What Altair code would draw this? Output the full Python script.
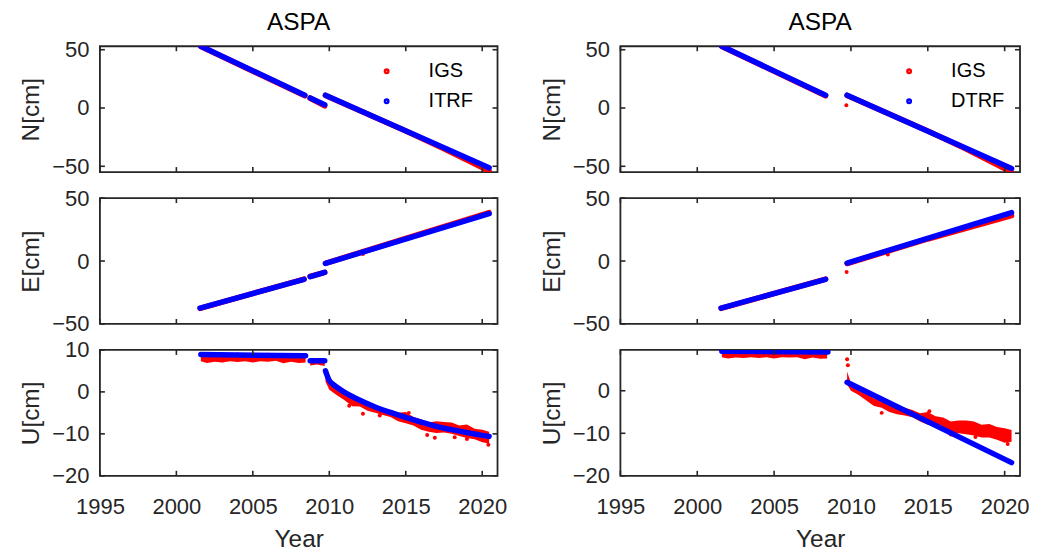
import altair as alt
import pandas as pd

# ---------------- data ----------------
YEAR_TICKS = [1995, 2000, 2005, 2010, 2015, 2020]
NE_TICKS = [-50, 0, 50]
U_TICKS_L = [-20, -10, 0, 10]
U_TICKS_R = [-20, -10, 0]

# North, left (IGS vs ITRF)
N_IGS_L_T = [2001.6, 2008.4, 2008.75, 2009.7, 2009.75, 2015.0, 2017.5, 2020.45]
N_IGS_L_V = [52.8, 10.5, 8.4, 1.8, 10.8, -19.8, -35.0, -54.0]
N_IGS_L_S = [1, 1, 2, 2, 3, 3, 3, 3]
N_ITRF_T = [2001.6, 2008.4, 2008.75, 2009.7, 2009.75, 2020.45]
N_ITRF_V = [53.0, 11.0, 8.6, 2.8, 11.0, -51.3]
N_ITRF_S = [1, 1, 2, 2, 3, 3]

# North, right (IGS vs DTRF)
N_IGS_R_T = [2001.6, 2008.35, 2009.75, 2015.0, 2017.5, 2020.45]
N_IGS_R_V = [52.8, 10.5, 10.8, -19.8, -35.2, -55.0]
N_IGS_R_S = [1, 1, 3, 3, 3, 3]
N_IGS_R_OUT_T = [2009.7]
N_IGS_R_OUT_V = [2.3]
N_DTRF_T = [2001.6, 2008.35, 2009.75, 2020.45]
N_DTRF_V = [53.0, 11.0, 11.0, -52.0]
N_DTRF_S = [1, 1, 3, 3]

# East, left
E_IGS_L_T = [2001.55, 2008.35, 2008.75, 2009.7, 2009.75, 2015.0, 2020.45]
E_IGS_L_V = [-37.6, -14.3, -12.3, -9.0, -1.8, 18.0, 38.4]
E_IGS_L_S = [1, 1, 2, 2, 3, 3, 3]
E_IGS_L_OUT_T = [2012.2]
E_IGS_L_OUT_V = [5.5]
E_ITRF_T = [2001.55, 2008.35, 2008.75, 2009.7, 2009.75, 2020.45]
E_ITRF_V = [-37.4, -14.5, -12.4, -9.0, -1.9, 37.6]
E_ITRF_S = [1, 1, 2, 2, 3, 3]

# East, right
E_IGS_R_T = [2001.55, 2008.35, 2009.75, 2015.0, 2020.45]
E_IGS_R_V = [-37.6, -14.3, -2.0, 17.5, 36.0]
E_IGS_R_S = [1, 1, 3, 3, 3]
E_IGS_R_OUT_T = [2009.72, 2012.4]
E_IGS_R_OUT_V = [-8.8, 5.2]
E_DTRF_T = [2001.55, 2008.35, 2009.75, 2020.45]
E_DTRF_V = [-37.4, -14.5, -1.6, 38.5]
E_DTRF_S = [1, 1, 3, 3]

# Up, left: IGS scatter band (lower / upper envelope) + outliers
U_IGS_L_T = [2001.6, 2002.0, 2002.5, 2003.0, 2003.5, 2004.0, 2004.5, 2005.0, 2005.5,
             2006.0, 2006.5, 2007.0, 2007.5, 2008.0, 2008.45,
             2008.75, 2009.2, 2009.7,
             2009.75, 2010.0, 2010.5, 2011.0, 2011.5, 2012.0, 2012.5, 2013.0, 2013.5,
             2014.0, 2014.5, 2015.0, 2015.5, 2016.0, 2016.5, 2017.0, 2017.5, 2018.0,
             2018.5, 2019.0, 2019.5, 2020.0, 2020.45]
U_IGS_L_LO = [7.3, 6.9, 7.2, 7.0, 7.3, 7.1, 7.3, 7.0, 7.3,
              7.2, 7.4, 6.8, 7.2, 6.9, 7.0,
              6.3, 6.5, 6.2,
              2.5, 0.5, -0.8, -2.0, -3.4, -3.5, -4.5, -5.0, -5.5,
              -6.0, -7.0, -7.5, -8.0, -9.0, -9.5, -9.8, -9.7, -10.0,
              -10.5, -11.0, -11.3, -12.0, -12.3]
U_IGS_L_HI = [9.0, 9.2, 9.0, 9.1, 9.0, 9.4, 9.0, 9.1, 8.9,
              9.3, 9.0, 8.9, 9.0, 8.8, 8.9,
              7.6, 7.5, 7.6,
              5.0, 2.6, 1.2, 0.0, -1.0, -1.7, -2.5, -3.2, -4.0,
              -4.3, -5.0, -4.8, -6.0, -6.5, -7.3, -7.0, -7.2, -7.3,
              -8.0, -7.8, -8.8, -9.0, -9.5]
U_IGS_L_S = [1] * 15 + [2] * 3 + [3] * 23
U_IGS_L_OUT_T = [2011.3, 2012.2, 2013.3, 2015.2, 2016.4, 2016.9, 2018.2, 2019.0, 2020.4]
U_IGS_L_OUT_V = [-3.3, -5.2, -5.6, -5.0, -10.3, -10.9, -10.8, -11.2, -12.6]
U_ITRF_T = [2001.6, 2008.45, 2008.75, 2009.7,
            2009.75, 2009.9, 2010.0, 2010.25, 2010.5, 2011.0, 2011.5, 2012.0, 2013.0,
            2014.0, 2015.0, 2016.0, 2017.0, 2018.0, 2019.0, 2020.45]
U_ITRF_V = [8.9, 8.6, 7.4, 7.4,
            5.0, 3.5, 2.7, 1.8, 1.1, -0.1, -1.1, -2.0, -3.6,
            -4.9, -6.1, -7.2, -8.2, -9.0, -9.7, -10.6]
U_ITRF_S = [1, 1, 2, 2] + [3] * 16

# Up, right
U_IGS_R_T = [2001.6, 2002.0, 2002.5, 2003.0, 2003.5, 2004.0, 2004.5, 2005.0, 2005.5,
             2006.0, 2006.5, 2007.0, 2007.5, 2008.0, 2008.45,
             2009.75, 2010.0, 2010.5, 2011.0, 2011.5, 2012.0, 2012.5, 2013.0, 2013.5,
             2014.0, 2014.5, 2015.0, 2015.5, 2016.0, 2016.5, 2017.0, 2017.5, 2018.0,
             2018.5, 2019.0, 2019.5, 2020.0, 2020.45]
U_IGS_R_LO = [7.9, 7.6, 7.8, 7.7, 7.9, 7.7, 7.9, 7.6, 7.9,
              7.8, 7.9, 7.4, 7.8, 7.5, 7.6,
              1.5, 0.0, -1.0, -2.3, -3.6, -4.0, -5.0, -5.5, -5.8,
              -6.2, -7.2, -8.0, -8.3, -9.3, -9.8, -10.0, -10.2, -10.5,
              -11.0, -11.0, -11.5, -12.2, -12.0]
U_IGS_R_HI = [9.6, 9.6, 9.6, 9.6, 9.6, 9.6, 9.6, 9.6, 9.6,
              9.6, 9.6, 9.6, 9.6, 9.6, 9.6,
              4.5, 1.8, 0.5, -0.5, -1.8, -2.3, -3.2, -3.8, -4.0,
              -4.5, -5.3, -5.0, -6.0, -6.3, -7.2, -7.0, -7.0, -7.2,
              -8.0, -7.8, -8.5, -8.8, -9.2]
U_IGS_R_S = [1] * 15 + [3] * 23
U_IGS_R_OUT_T = [2009.75, 2009.8, 2012.0, 2015.1, 2016.5, 2018.1, 2020.2]
U_IGS_R_OUT_V = [7.4, 6.0, -5.2, -4.8, -10.3, -10.9, -12.5]
U_DTRF_T = [2001.6, 2008.5, 2009.75, 2020.45]
U_DTRF_V = [9.3, 9.1, 2.0, -16.9]
U_DTRF_S = [1, 1, 3, 3]

# ---------------- style ----------------
RED = "#ff0000"
BLUE = "#0000ff"
INK = "#262626"
FONT = "Liberation Sans"
H = 126
W_L, W_R = 398, 400
XDOM = [1995, 2021]


def line_df(t, v, s, series):
    return pd.DataFrame({"t": t, "v": v, "s": s, "series": series})


def pts_df(t, v):
    return pd.DataFrame({"t": t, "v": v})


def band_df(t, lo, hi, s):
    return pd.DataFrame({"t": t, "lo": lo, "hi": hi, "s": s})


def panel(width, ydom, yticks, ytitle, content, bottom=False, title=None,
          legend_names=None):
    xs = alt.Scale(domain=XDOM, nice=False, zero=False)
    ys = alt.Scale(domain=ydom, nice=False, zero=False)
    if bottom:
        xaxis = alt.Axis(values=YEAR_TICKS, format="d", tickSize=0, domain=False,
                         grid=False, title="Year", labelPadding=21, titlePadding=10,
                         labelFlush=False)
    else:
        xaxis = None
    yaxis = alt.Axis(values=yticks, tickSize=0, domain=False, grid=False,
                     title=ytitle, labelPadding=11, titlePadding=8, labelFlush=False)

    def X(field="t"):
        return alt.X(f"{field}:Q", scale=xs, axis=xaxis)

    def Y(field="v"):
        return alt.Y(f"{field}:Q", scale=ys, axis=yaxis)

    layers = []
    for kind, df, extra in content:
        if kind == "band":
            layers.append(alt.Chart(df).mark_area(color=RED, opacity=1, clip=True,
                                                  interpolate="linear").encode(
                x=X(), y=Y("lo"), y2="hi:Q", detail="s:N"))
        elif kind == "pts":
            layers.append(alt.Chart(df).mark_circle(color=RED, size=16, opacity=1,
                                                    clip=True).encode(x=X(), y=Y()))
        elif kind == "line":
            color, interp = extra
            enc = dict(x=X(), y=Y(), detail="s:N")
            if legend_names:
                enc["color"] = alt.Color(
                    "series:N",
                    scale=alt.Scale(domain=legend_names, range=[RED, BLUE]),
                    legend=alt.Legend(title=None, orient="none", legendX=width - 121,
                                      legendY=15, labelFontSize=20, labelColor="#000000",
                                      labelFont=FONT, symbolType="circle",
                                      symbolSize=6, symbolStrokeWidth=3.5,
                                      labelOffset=32, rowPadding=10))
                mk = alt.Chart(df).mark_line(strokeWidth=5.5, strokeCap="round",
                                             strokeJoin="round", clip=True,
                                             interpolate=interp)
            else:
                mk = alt.Chart(df).mark_line(strokeWidth=5.5, strokeCap="round",
                                             strokeJoin="round", clip=True,
                                             color=color, interpolate=interp)
            layers.append(mk.encode(**enc))

    # inward ticks (MATLAB style) on all four sides
    yt = pd.DataFrame({"v": yticks})
    xt = pd.DataFrame({"t": YEAR_TICKS})
    tick_style = dict(color=INK, strokeWidth=1.6)
    layers.append(alt.Chart(yt).mark_rule(**tick_style).encode(
        y=Y(), x=alt.value(0), x2=alt.value(5)))
    layers.append(alt.Chart(yt).mark_rule(**tick_style).encode(
        y=Y(), x=alt.value(width - 5), x2=alt.value(width)))
    layers.append(alt.Chart(xt).mark_rule(**tick_style).encode(
        x=X(), y=alt.value(H - 5), y2=alt.value(H)))
    layers.append(alt.Chart(xt).mark_rule(**tick_style).encode(
        x=X(), y=alt.value(0), y2=alt.value(5)))

    ch = alt.layer(*layers).properties(width=width, height=H)
    if title:
        ch = ch.properties(title=alt.TitleParams(title, fontSize=24.4, fontWeight="normal",
                                                 font=FONT, color="#000000", offset=3))
    return ch


# ---- left column ----
nL = panel(W_L, [-55, 53], NE_TICKS, "N[cm]", [
    ("line", line_df(N_IGS_L_T, N_IGS_L_V, N_IGS_L_S, "IGS"), (RED, "linear")),
    ("line", line_df(N_ITRF_T, N_ITRF_V, N_ITRF_S, "ITRF"), (BLUE, "linear")),
], title="ASPA", legend_names=["IGS", "ITRF"])
eL = panel(W_L, [-50, 50], NE_TICKS, "E[cm]", [
    ("line", line_df(E_IGS_L_T, E_IGS_L_V, E_IGS_L_S, "IGS"), (RED, "linear")),
    ("pts", pts_df(E_IGS_L_OUT_T, E_IGS_L_OUT_V), None),
    ("line", line_df(E_ITRF_T, E_ITRF_V, E_ITRF_S, "ITRF"), (BLUE, "linear")),
])
uL = panel(W_L, [-20, 10], U_TICKS_L, "U[cm]", [
    ("band", band_df(U_IGS_L_T, U_IGS_L_LO, U_IGS_L_HI, U_IGS_L_S), None),
    ("pts", pts_df(U_IGS_L_OUT_T, U_IGS_L_OUT_V), None),
    ("line", line_df(U_ITRF_T, U_ITRF_V, U_ITRF_S, "ITRF"), (BLUE, "monotone")),
], bottom=True)

# ---- right column ----
nR = panel(W_R, [-55, 53], NE_TICKS, "N[cm]", [
    ("line", line_df(N_IGS_R_T, N_IGS_R_V, N_IGS_R_S, "IGS"), (RED, "linear")),
    ("pts", pts_df(N_IGS_R_OUT_T, N_IGS_R_OUT_V), None),
    ("line", line_df(N_DTRF_T, N_DTRF_V, N_DTRF_S, "DTRF"), (BLUE, "linear")),
], title="ASPA", legend_names=["IGS", "DTRF"])
eR = panel(W_R, [-50, 50], NE_TICKS, "E[cm]", [
    ("line", line_df(E_IGS_R_T, E_IGS_R_V, E_IGS_R_S, "IGS"), (RED, "linear")),
    ("pts", pts_df(E_IGS_R_OUT_T, E_IGS_R_OUT_V), None),
    ("line", line_df(E_DTRF_T, E_DTRF_V, E_DTRF_S, "DTRF"), (BLUE, "linear")),
])
uR = panel(W_R, [-20, 9.6], U_TICKS_R, "U[cm]", [
    ("band", band_df(U_IGS_R_T, U_IGS_R_LO, U_IGS_R_HI, U_IGS_R_S), None),
    ("pts", pts_df(U_IGS_R_OUT_T, U_IGS_R_OUT_V), None),
    ("line", line_df(U_DTRF_T, U_DTRF_V, U_DTRF_S, "DTRF"), (BLUE, "linear")),
], bottom=True)

chart = alt.concat(
    nL, nR, eL, eR, uL, uR, columns=2,
    spacing={"row": 26, "column": 123}, bounds="flush"
).resolve_scale(color="independent").resolve_legend(color="independent").properties(
    padding={"left": 9, "top": 1, "right": 5, "bottom": 5},
    background="white",
).configure_view(stroke=INK, strokeWidth=1.8).configure_axis(
    labelFont=FONT, titleFont=FONT, labelFontSize=22, titleFontSize=24.4,
    labelColor=INK, titleColor=INK, titleFontWeight="normal"
)

chart.save("out.html", embed_options={"renderer": "svg", "actions": False})
